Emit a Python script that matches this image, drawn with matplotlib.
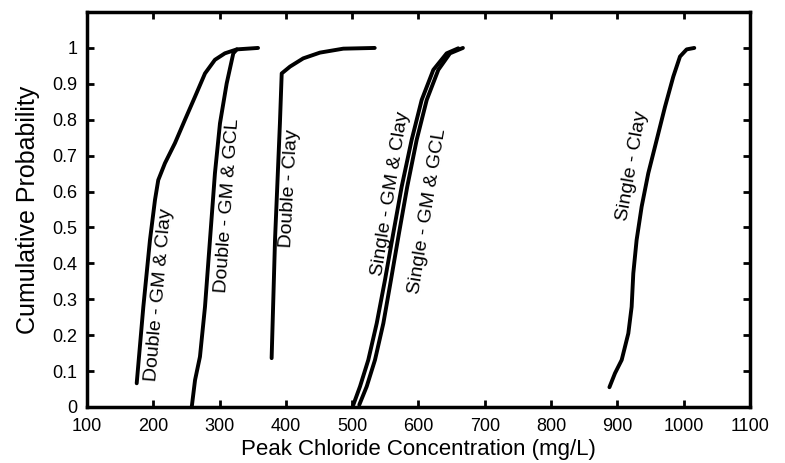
import matplotlib
matplotlib.use("Agg")
import matplotlib.pyplot as plt

plt.rcParams['font.family'] = ['Liberation Sans', 'DejaVu Sans']

# curves: peak chloride (mg/L) vs cumulative probability
dbl_gm_clay_x = [175, 185, 195, 202.6, 207.5, 217.6, 232.7, 247.8, 262.9, 278, 293, 308, 326, 358]
dbl_gm_clay_y = [0.066, 0.279, 0.465, 0.577, 0.632, 0.679, 0.735, 0.80, 0.864, 0.929, 0.967, 0.985, 0.996, 1.0]

dbl_gm_gcl_x = [258, 263, 270.4, 278, 285.5, 293, 300.6, 310.7, 320.7, 326]
dbl_gm_gcl_y = [0.0, 0.075, 0.14, 0.279, 0.465, 0.651, 0.79, 0.901, 0.985, 0.996]

dbl_clay_x = [378.5, 383.6, 391, 393.7, 406.2, 426.2, 451.4, 486.6, 534]
dbl_clay_y = [0.136, 0.465, 0.79, 0.929, 0.948, 0.971, 0.987, 0.998, 1.0]

sgl_gm_clay_x = [501.7, 511.8, 524.3, 537, 549.5, 562, 574.7, 589.7, 604.8, 622.4, 642.5, 660]
sgl_gm_clay_y = [0.006, 0.057, 0.131, 0.233, 0.354, 0.484, 0.614, 0.744, 0.855, 0.939, 0.985, 0.999]

sgl_gm_gcl_x = [510.7, 521.9, 534.4, 547, 558.5, 570.6, 583.1, 597.3, 612.4, 629.9, 647.5, 667]
sgl_gm_gcl_y = [0.006, 0.057, 0.131, 0.233, 0.354, 0.484, 0.614, 0.744, 0.855, 0.939, 0.985, 1.0]

sgl_clay_x = [888, 896.4, 906.5, 916.5, 921.5, 924, 929, 936.6, 946.6, 959.3, 971.8, 984.3, 994.4, 1004.5, 1016]
sgl_clay_y = [0.055, 0.094, 0.131, 0.205, 0.279, 0.372, 0.465, 0.558, 0.651, 0.744, 0.836, 0.92, 0.976, 0.996, 1.0]

labels = ["Double - GM & Clay", "Double - GM & GCL", "Double - Clay",
          "Single - GM & Clay", "Single - GM & GCL", "Single - Clay"]
label_x = [209, 312, 405, 558, 614, 923]
label_y = [0.312, 0.56, 0.61, 0.593, 0.546, 0.671]
label_rot = [85, 86, 87, 81, 81, 80]

x_ticks = list(range(100, 1101, 100))
y_ticks = [0, 0.1, 0.2, 0.3, 0.4, 0.5, 0.6, 0.7, 0.8, 0.9, 1]
y_ticklabels = ['0', '0.1', '0.2', '0.3', '0.4', '0.5', '0.6', '0.7', '0.8', '0.9', '1']

fig = plt.figure(figsize=(7.85, 4.63), dpi=100)
ax = fig.add_axes([0.1108, 0.121, 0.8446, 0.853])

curves = [(dbl_gm_clay_x, dbl_gm_clay_y), (dbl_gm_gcl_x, dbl_gm_gcl_y),
          (dbl_clay_x, dbl_clay_y), (sgl_gm_clay_x, sgl_gm_clay_y),
          (sgl_gm_gcl_x, sgl_gm_gcl_y), (sgl_clay_x, sgl_clay_y)]
for cx, cy in curves:
    ax.plot(cx, cy, color='black', linewidth=2.8, solid_capstyle='round',
            solid_joinstyle='round')

for txt, tx, ty, rot in zip(labels, label_x, label_y, label_rot):
    ax.text(tx, ty, txt, rotation=rot, ha='center', va='center',
            fontsize=14, rotation_mode='anchor')

ax.set_xlim(100, 1100)
ax.set_ylim(0, 1.1)
ax.set_xticks(x_ticks)
ax.set_yticks(y_ticks)
ax.set_yticklabels(y_ticklabels)
ax.tick_params(direction='in', length=5, width=2, labelsize=13,
               top=True, right=True)
ax.tick_params(axis='x', pad=8)
ax.tick_params(axis='y', pad=7)
for s in ax.spines.values():
    s.set_linewidth(2.5)

ax.set_xlabel("Peak Chloride Concentration (mg/L)", fontsize=16, labelpad=3)
ax.set_ylabel("Cumulative Probability", fontsize=18, labelpad=9)

fig.savefig("out.png", dpi=100)
